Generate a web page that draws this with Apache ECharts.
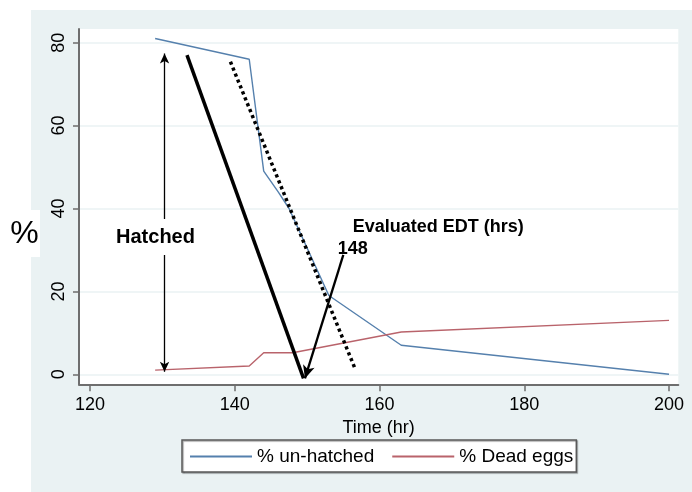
<!DOCTYPE html>
<html>
<head>
<meta charset="utf-8">
<script src="https://cdn.jsdelivr.net/npm/echarts@6/dist/echarts.min.js"></script>
<style>
  html, body { margin: 0; padding: 0; background: #fff; }
  #chart { width: 692px; height: 492px; }
</style>
</head>
<body>
<div id="chart"></div>
<script>
// values
const xTicks = [120, 140, 160, 180, 200]
const yTicks = [0, 20, 40, 60, 80]

const timeUnhatched = [129, 142, 144, 146, 147.5, 153, 163, 200]
const pctUnhatched = [81, 76, 49, 44, 40, 19, 7, 0]

const timeDead = [129, 142, 144, 148, 163, 200]
const pctDead = [1, 2, 5.2, 5.2, 10.2, 13]

// annotations, in data units (time, %)
const hatchedArrow = [[130.3, 77.4], [130.3, 0.6]]
const steepLine = [[133.4, 77.0], [149.5, -1.0]]
const dottedLine = [[139.4, 75.4], [156.7, 1.0]]
const edtArrow = [[155.0, 28.8], [149.7, -1.0]]
const hatchedLabel = [129.05, 33.1]
const edtLabel = [168.1, 35.5]
const edtValueLabel = [156.3, 30.2]

const FONT = 'Liberation Sans, Arial, sans-serif'
const blue = '#5580ad'
const red = '#b9636b'
const bg = '#eaf2f3'

const pairs = (xs, ys) => xs.map((x, i) => [x, ys[i]])
const seg = (p, style, sym, size) => [
  { coord: p[0], symbol: sym[0], symbolSize: size, lineStyle: style },
  { coord: p[1], symbol: sym[1], symbolSize: size }
]
const textPoint = (pos, text, extra) => ({
  coord: pos,
  symbol: 'rect',
  symbolSize: 0,
  label: Object.assign({
    show: true,
    position: 'inside',
    formatter: text,
    color: '#000',
    fontFamily: FONT,
    fontSize: 18
  }, extra)
})

const chart = echarts.init(document.getElementById('chart'), null, { renderer: 'canvas' })

const option = {
  animation: false,
  backgroundColor: '#fff',
  graphic: [
    { type: 'rect', z: -10, shape: { x: 31, y: 10, width: 661, height: 482 }, style: { fill: bg } },
    { type: 'rect', z: -5, shape: { x: 0, y: 210, width: 40, height: 47 }, style: { fill: '#fff' } },
    { type: 'text', z: 5, x: 24.5, y: 234, style: { text: '%', font: '32px ' + FONT, fill: '#000', align: 'center', verticalAlign: 'middle' } }
  ],
  grid: {
    show: true,
    backgroundColor: '#fff',
    borderWidth: 0,
    left: 79,
    right: 13.7,
    top: 29,
    bottom: 107.7,
    containLabel: false,
    outerBoundsMode: 'none'
  },
  legend: {
    data: ['% un-hatched', '% Dead eggs'],
    left: 182,
    top: 440,
    width: 400,
    icon: 'rect',
    itemWidth: 62,
    itemHeight: 2,
    itemGap: 18,
    padding: [7, 3, 6, 8],
    backgroundColor: '#fff',
    borderColor: '#5a5a5a',
    borderWidth: 1.5,
    shadowColor: 'rgba(0,0,0,0.35)',
    shadowOffsetX: 1,
    shadowOffsetY: 1,
    shadowBlur: 1,
    textStyle: { fontFamily: FONT, fontSize: 19, color: '#000' }
  },
  xAxis: {
    type: 'value',
    min: 118.48,
    max: 201.28,
    name: 'Time (hr)',
    nameLocation: 'middle',
    nameGap: 31,
    nameTextStyle: { fontFamily: FONT, fontSize: 18, color: '#000' },
    axisLine: { show: true, onZero: false, lineStyle: { color: '#6e6e6e', width: 2 } },
    axisTick: { show: true, length: 7, customValues: xTicks, lineStyle: { color: '#6e6e6e', width: 1.5 } },
    axisLabel: { customValues: xTicks, margin: 12, fontFamily: FONT, fontSize: 18, color: '#000' },
    splitLine: { show: false }
  },
  yAxis: {
    type: 'value',
    min: -2.41,
    max: 83.3,
    axisLine: { show: true, onZero: false, lineStyle: { color: '#6e6e6e', width: 2 } },
    axisTick: { show: true, length: 6, customValues: yTicks, lineStyle: { color: '#6e6e6e', width: 1.5 } },
    axisLabel: { customValues: yTicks, rotate: 90, margin: 11, fontFamily: FONT, fontSize: 18, color: '#000' },
    splitLine: { show: true, lineStyle: { color: bg, width: 1.5 } }
  },
  series: [
    {
      name: '% un-hatched',
      type: 'line',
      data: pairs(timeUnhatched, pctUnhatched),
      showSymbol: false,
      symbol: 'none',
      clip: false,
      lineStyle: { color: blue, width: 1.4 },
      itemStyle: { color: blue },
      z: 3
    },
    {
      name: '% Dead eggs',
      type: 'line',
      data: pairs(timeDead, pctDead),
      showSymbol: false,
      symbol: 'none',
      clip: false,
      lineStyle: { color: red, width: 1.4 },
      itemStyle: { color: red },
      z: 3
    },
    {
      name: 'annotations',
      type: 'line',
      data: [],
      z: 4,
      markLine: {
        silent: true,
        animation: false,
        label: { show: false },
        emphasis: { disabled: true },
        data: [
          seg(hatchedArrow, { color: '#000', width: 1.3, type: 'solid' }, ['arrow', 'arrow'], [7, 10]),
          seg(steepLine, { color: '#000', width: 3.5, type: 'solid', cap: 'butt' }, ['none', 'none'], 0),
          seg(dottedLine, { color: '#000', width: 3.5, type: [3.2, 3.2], cap: 'butt' }, ['none', 'none'], 0),
          seg(edtArrow, { color: '#000', width: 2.3, type: 'solid' }, ['none', 'arrow'], [9, 13])
        ]
      },
      markPoint: {
        silent: true,
        animation: false,
        data: [
          textPoint(hatchedLabel, 'Hatched', { fontWeight: 'bold', fontSize: 20, backgroundColor: '#fff', padding: [8, 2] }),
          textPoint(edtLabel, 'Evaluated EDT (hrs)', { fontWeight: 'bold' }),
          textPoint(edtValueLabel, '148', { fontWeight: 'bold' })
        ]
      }
    }
  ]
}

chart.setOption(option)
</script>
</body>
</html>
